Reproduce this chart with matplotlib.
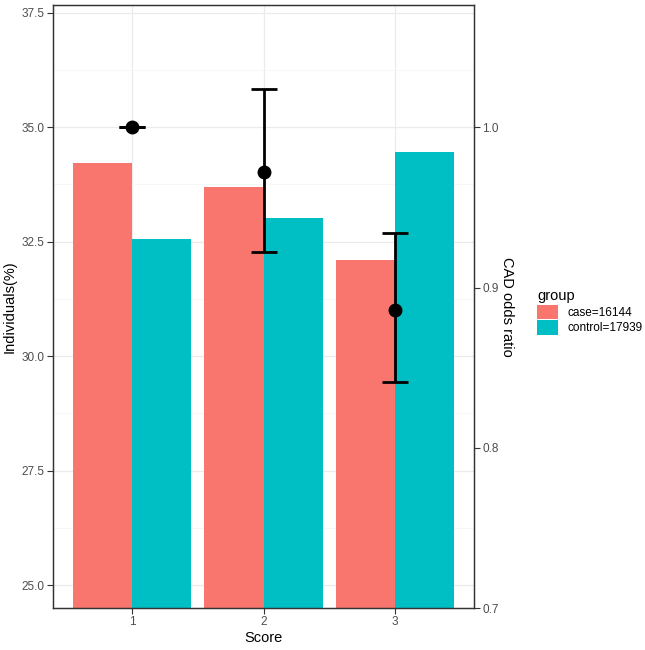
# Grouped bars (Individuals %) with CAD odds ratio points on a secondary axis

import matplotlib.pyplot as plt
from matplotlib.patches import Patch
import numpy as np

plt.rcParams['font.family'] = ['Liberation Sans', 'DejaVu Sans']

# data
scores = ['1', '2', '3']
case_pct = [34.21, 33.70, 32.09]
control_pct = [32.55, 33.01, 34.45]
odds_ratio = [1.0, 0.972, 0.886]
or_lower = [1.0, 0.922, 0.841]
or_upper = [1.0, 1.024, 0.934]
group_labels = ['case=16144', 'control=17939']

case_col = '#F8766D'
ctrl_col = '#00BFC4'
grey = '#4D4D4D'

fig = plt.figure(figsize=(6.45, 6.5), dpi=100)
ax = fig.add_axes([0.0822, 0.0646, 0.6527, 0.9277])

x = np.arange(1, len(scores) + 1)
w = 0.45
ax.bar(x - w / 2, case_pct, width=w, color=case_col, zorder=2)
ax.bar(x + w / 2, control_pct, width=w, color=ctrl_col, zorder=2)

ax.set_xlim(0.4, 3.6)
ax.set_ylim(24.5, 37.67)
ax.set_xticks(x)
ax.set_xticklabels(scores)
ax.set_yticks([25, 27.5, 30, 32.5, 35, 37.5])
ax.set_yticks([26.25, 28.75, 31.25, 33.75, 36.25], minor=True)
ax.grid(which='major', color='#EBEBEB', lw=0.9, zorder=0)
ax.grid(which='minor', axis='y', color='#F4F4F4', lw=0.5, zorder=0)
ax.set_axisbelow(True)
ax.tick_params(which='major', direction='out', length=4, width=0.8,
               color='#333333', labelsize=8.5, labelcolor=grey, pad=2)
ax.tick_params(which='minor', length=0)
ax.set_xlabel('Score', fontsize=10.5, labelpad=2)
ax.set_ylabel('Individuals(%)', fontsize=10.5, labelpad=4)
ax.yaxis.set_major_formatter(plt.FormatStrFormatter('%.1f'))

# secondary axis for odds ratio (primary / 35)
ax2 = ax.twinx()
ax2.set_ylim(24.5 / 35, 37.67 / 35)
ax2.set_yticks([0.7, 0.8, 0.9, 1.0])
ax2.yaxis.set_major_formatter(plt.FormatStrFormatter('%.1f'))
ax2.tick_params(direction='out', length=4, width=0.8, color='#333333',
                labelsize=8.5, labelcolor=grey, pad=2)
ax2.set_ylabel('CAD odds ratio', fontsize=10.5, rotation=-90, labelpad=11)

yerr = [np.array(odds_ratio) - np.array(or_lower),
        np.array(or_upper) - np.array(odds_ratio)]
ax2.errorbar(x, odds_ratio, yerr=yerr, fmt='none', ecolor='black',
             elinewidth=2, capsize=9.7, capthick=2, zorder=4)
ax2.plot(x, odds_ratio, 'o', color='black', ms=9, zorder=5)

for a in (ax, ax2):
    for s in a.spines.values():
        s.set_color('#333333')
        s.set_linewidth(0.9)

handles = [Patch(facecolor=case_col), Patch(facecolor=ctrl_col)]
leg = fig.legend(handles, group_labels, title='group', loc='center left',
                 bbox_to_anchor=(0.826, 0.52), frameon=False, fontsize=8.5,
                 title_fontsize=10.5, handlelength=1.7, handleheight=1.5,
                 handletextpad=0.8, labelspacing=0.1, borderaxespad=0)
leg._legend_box.align = 'left'

plt.savefig('out.png', dpi=100)
